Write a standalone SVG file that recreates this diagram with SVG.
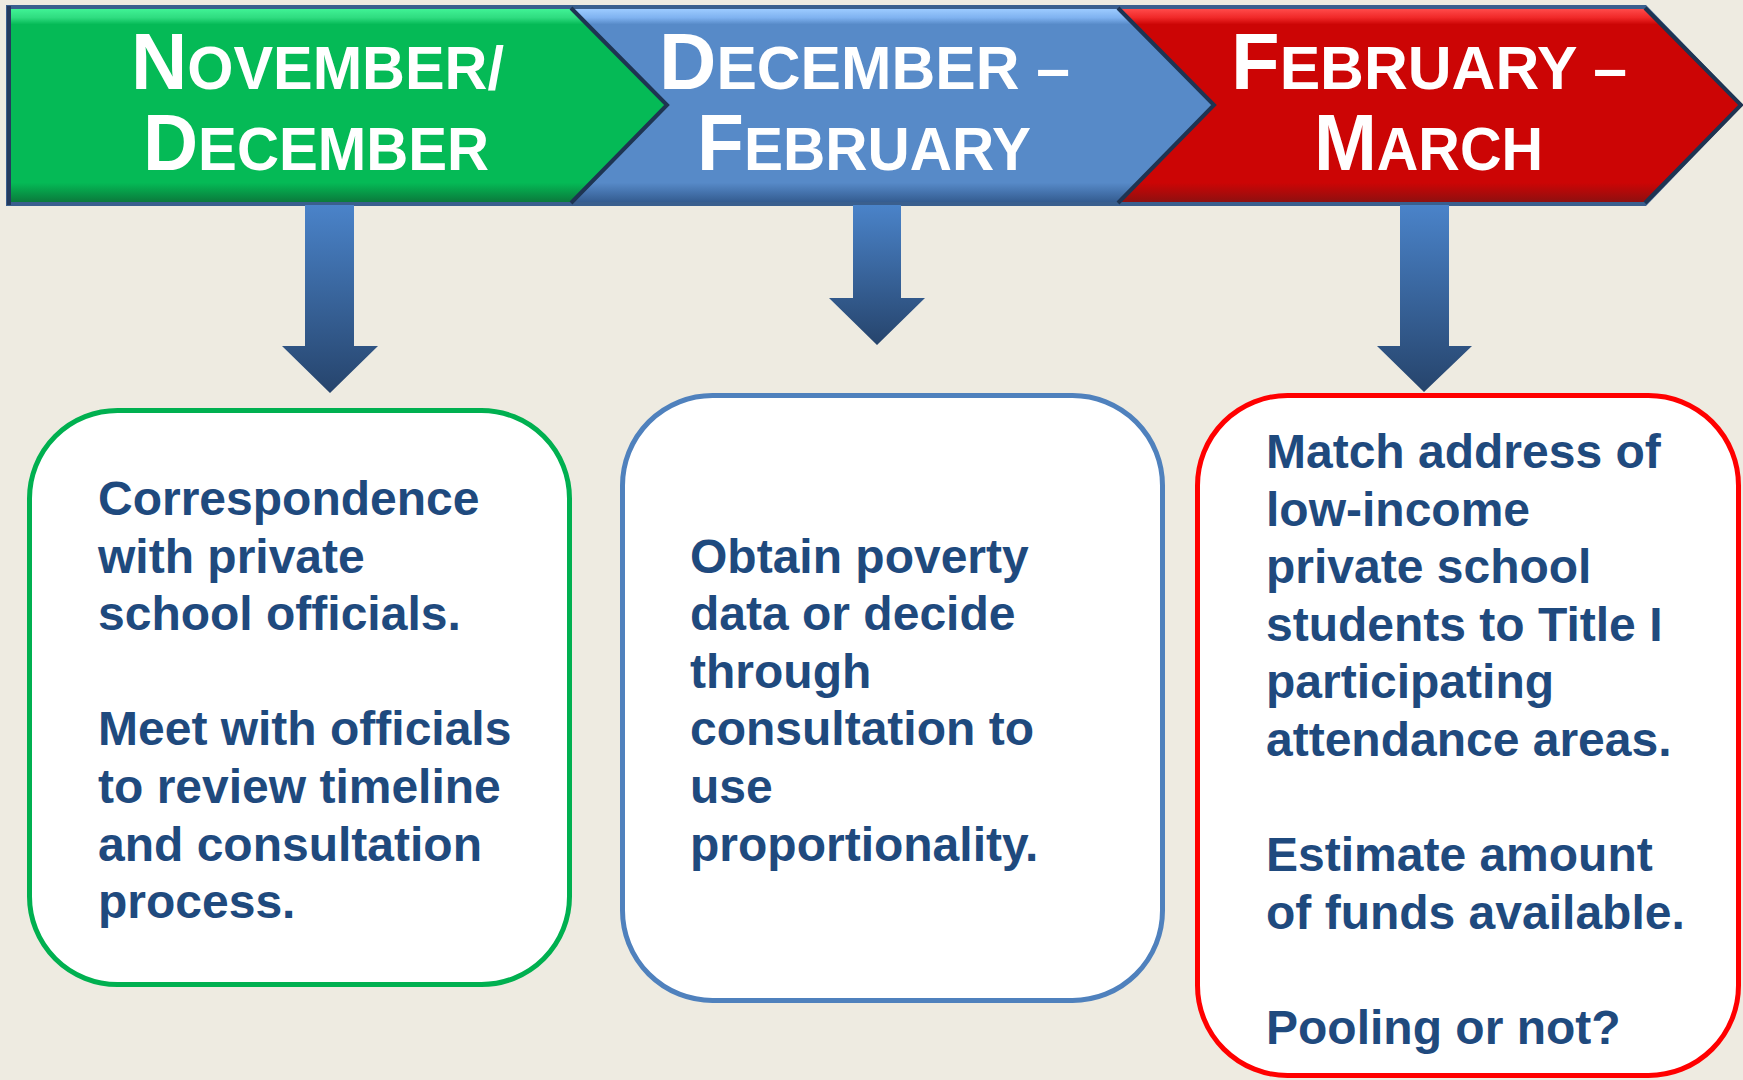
<svg xmlns="http://www.w3.org/2000/svg" width="1743" height="1080" viewBox="0 0 1743 1080">
  <style>
    .hdr { font-family: "Liberation Sans", Arial, sans-serif; font-weight: bold; fill: #FFFFFF; }
    .big { font-size: 80px; }
    .sm { font-size: 61px; }
    .body { font-family: "Liberation Sans", Arial, sans-serif; font-weight: bold; font-size: 48px; fill: #1F4A7E; }
    .edge { fill: none; stroke: #1E3452; stroke-width: 4; stroke-linejoin: miter; }
    .box { fill: #FFFFFF; stroke-width: 5; }
  </style>
  <defs>
    <linearGradient id="gGreen" gradientUnits="userSpaceOnUse" x1="0" y1="9" x2="0" y2="202">
      <stop offset="0" stop-color="#40F295"/>
      <stop offset="0.045" stop-color="#2FDC80"/>
      <stop offset="0.08" stop-color="#05BA56"/>
      <stop offset="0.9" stop-color="#05BA56"/>
      <stop offset="0.95" stop-color="#079A48"/>
      <stop offset="1" stop-color="#0B7A3C"/>
    </linearGradient>
    <linearGradient id="gBlue" gradientUnits="userSpaceOnUse" x1="0" y1="9" x2="0" y2="202">
      <stop offset="0" stop-color="#9CCBFF"/>
      <stop offset="0.045" stop-color="#7FB2F0"/>
      <stop offset="0.08" stop-color="#578AC8"/>
      <stop offset="0.9" stop-color="#578AC8"/>
      <stop offset="0.95" stop-color="#4573AD"/>
      <stop offset="1" stop-color="#345C90"/>
    </linearGradient>
    <linearGradient id="gRed" gradientUnits="userSpaceOnUse" x1="0" y1="9" x2="0" y2="202">
      <stop offset="0" stop-color="#FF4A4A"/>
      <stop offset="0.045" stop-color="#F02828"/>
      <stop offset="0.08" stop-color="#CC0505"/>
      <stop offset="0.9" stop-color="#CC0505"/>
      <stop offset="0.95" stop-color="#AE0A0A"/>
      <stop offset="1" stop-color="#8E1010"/>
    </linearGradient>
    <linearGradient id="gArrow" x1="0" y1="0" x2="0" y2="1">
      <stop offset="0" stop-color="#4A83C9"/>
      <stop offset="1" stop-color="#26446C"/>
    </linearGradient>
  </defs>

  <rect x="0" y="0" width="1743" height="1080" fill="#EEEBE1"/>

  <!-- timeline banner -->
  <polygon points="6,5 1646,5 1743,105 1646,206 6,206" fill="#3A5F8E"/>

  <g id="phase-nov-dec">
    <polygon points="9,9 571,9 667,105 571,202 9,202" fill="url(#gGreen)"/>
    <line x1="9" y1="6" x2="9" y2="205" stroke="#243B5E" stroke-width="4"/>
    <text class="hdr" x="131" y="89" textLength="373" lengthAdjust="spacingAndGlyphs"><tspan class="big">N</tspan><tspan class="sm">OVEMBER/</tspan></text>
    <text class="hdr" x="143" y="170" textLength="346" lengthAdjust="spacingAndGlyphs"><tspan class="big">D</tspan><tspan class="sm">ECEMBER</tspan></text>
  </g>

  <g id="phase-dec-feb">
    <polygon points="571,9 1118,9 1214,105 1118,202 571,202 667,105" fill="url(#gBlue)"/>
    <text class="hdr" x="659" y="89" textLength="411" lengthAdjust="spacingAndGlyphs"><tspan class="big">D</tspan><tspan class="sm">ECEMBER –</tspan></text>
    <text class="hdr" x="697" y="170" textLength="334" lengthAdjust="spacingAndGlyphs"><tspan class="big">F</tspan><tspan class="sm">EBRUARY</tspan></text>
  </g>

  <g id="phase-feb-mar">
    <polygon points="1118,9 1645,9 1741,105 1645,202 1118,202 1214,105" fill="url(#gRed)"/>
    <text class="hdr" x="1231" y="89" textLength="396" lengthAdjust="spacingAndGlyphs"><tspan class="big">F</tspan><tspan class="sm">EBRUARY –</tspan></text>
    <text class="hdr" x="1314" y="170" textLength="229" lengthAdjust="spacingAndGlyphs"><tspan class="big">M</tspan><tspan class="sm">ARCH</tspan></text>
  </g>

  <g id="banner-edges">
    <polyline class="edge" points="571,8 667,105 571,203"/>
    <polyline class="edge" points="1118,8 1214,105 1118,203"/>
    <polyline class="edge" points="1645,8 1741,105 1645,203"/>
  </g>

  <!-- connectors -->
  <g id="connectors" fill="url(#gArrow)">
    <polygon points="305,205 354,205 354,346 378,346 330,393 282,346 305,346"/>
    <polygon points="853,205 901,205 901,298 925,298 877,345 829,298 853,298"/>
    <polygon points="1400,205 1449,205 1449,346 1472,346 1424,392 1377,346 1400,346"/>
  </g>

  <!-- boxes -->
  <g id="box-nov-dec">
    <rect class="box" x="29.5" y="410.5" width="540" height="574" rx="88" ry="88" stroke="#00B050"/>
    <text class="body">
      <tspan x="98" y="515">Correspondence</tspan>
      <tspan x="98" y="572.6">with private</tspan>
      <tspan x="98" y="630.2">school officials.</tspan>
      <tspan x="98" y="745.4">Meet with officials</tspan>
      <tspan x="98" y="803">to review timeline</tspan>
      <tspan x="98" y="860.6">and consultation</tspan>
      <tspan x="98" y="918.2">process.</tspan>
    </text>
  </g>

  <g id="box-dec-feb">
    <rect class="box" x="622.5" y="395.5" width="540" height="605" rx="90" ry="90" stroke="#4F81BD"/>
    <text class="body">
      <tspan x="690" y="572.5">Obtain poverty</tspan>
      <tspan x="690" y="630.1">data or decide</tspan>
      <tspan x="690" y="687.7">through</tspan>
      <tspan x="690" y="745.3">consultation to</tspan>
      <tspan x="690" y="802.9">use</tspan>
      <tspan x="690" y="860.5">proportionality.</tspan>
    </text>
  </g>

  <g id="box-feb-mar">
    <rect class="box" x="1197.5" y="395.5" width="541" height="680" rx="90" ry="90" stroke="#FF0000"/>
    <text class="body">
      <tspan x="1266" y="468">Match address of</tspan>
      <tspan x="1266" y="525.6">low-income</tspan>
      <tspan x="1266" y="583.2">private school</tspan>
      <tspan x="1266" y="640.8">students to Title I</tspan>
      <tspan x="1266" y="698.4">participating</tspan>
      <tspan x="1266" y="756">attendance areas.</tspan>
      <tspan x="1266" y="871.2">Estimate amount</tspan>
      <tspan x="1266" y="928.8">of funds available.</tspan>
      <tspan x="1266" y="1044">Pooling or not?</tspan>
    </text>
  </g>
</svg>
